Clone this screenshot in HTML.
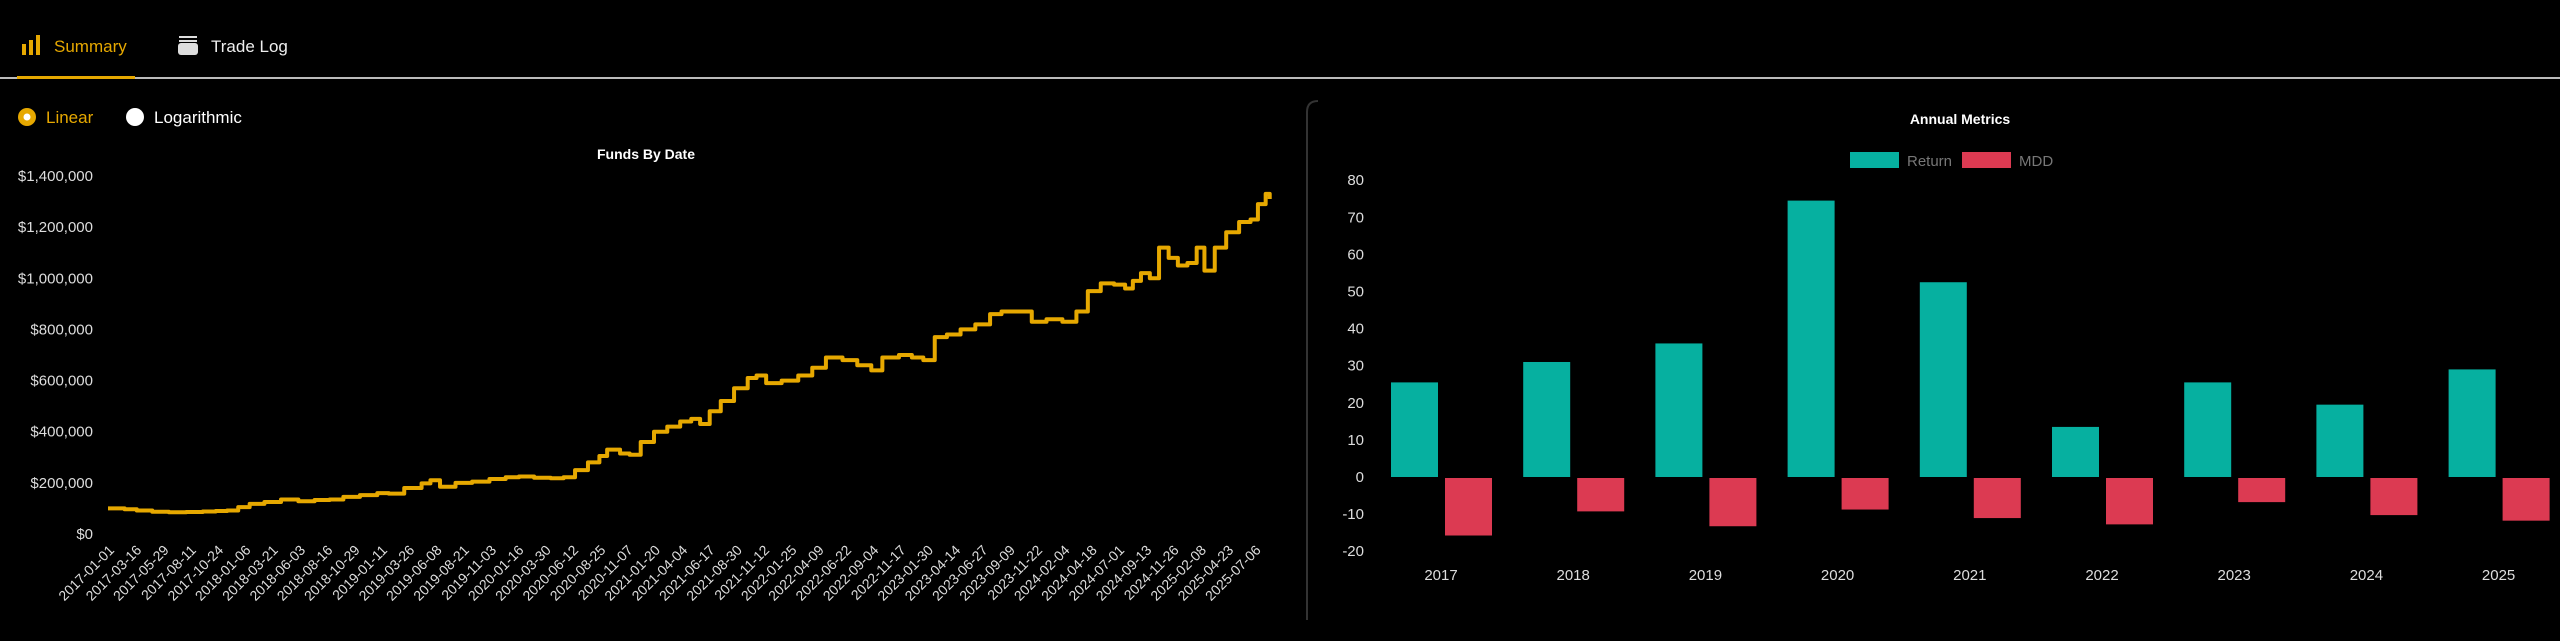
<!DOCTYPE html>
<html><head><meta charset="utf-8"><style>
html,body{margin:0;padding:0;background:#000;width:2560px;height:641px;overflow:hidden;font-family:"Liberation Sans",sans-serif}
svg{position:absolute;left:0;top:0}
</style></head><body>
<svg id="root" width="2560" height="641" xmlns="http://www.w3.org/2000/svg">
 <g>
  <rect x="22" y="44" width="4" height="11" fill="#e6a800"/><rect x="29" y="40" width="4" height="15" fill="#e6a800"/><rect x="36" y="35" width="4" height="20" fill="#e6a800"/>
  <text x="54" y="52" font-size="17" fill="#e6a800">Summary</text>
 </g>
 <g>
  <rect x="179" y="36" width="18" height="2" fill="#ddd"/><rect x="179" y="40" width="18" height="2" fill="#ddd"/><rect x="178" y="43" width="20" height="12" rx="3" fill="#ddd"/>
  <text x="211" y="52" font-size="17" fill="#eee">Trade Log</text>
 </g>
 <rect x="0" y="77" width="2560" height="2" fill="#bbb"/>
 <rect x="17" y="76" width="118" height="3" fill="#e6a800"/>
 <g>
  <circle cx="27" cy="117" r="9" fill="#e6a800"/><circle cx="27" cy="117" r="3.5" fill="#fff"/>
  <text x="46" y="123" font-size="17" fill="#e6a800">Linear</text>
 </g>
 <g>
  <circle cx="135" cy="117" r="9" fill="#fff"/>
  <text x="154" y="123" font-size="17" fill="#fff">Logarithmic</text>
 </g>
 <text x="646" y="159" font-size="14" font-weight="bold" fill="#fff" text-anchor="middle">Funds By Date</text>
 <g id="lineChart"></g>
 <path d="M1307 620 L1307 112 Q1307 101 1318 101" stroke="#333" stroke-width="2" fill="none"/>
 <text x="1960" y="124" font-size="14" font-weight="bold" fill="#fff" text-anchor="middle">Annual Metrics</text>
 <g><rect x="1850" y="152" width="49" height="16" fill="#06b0a0"/><text x="1907" y="166" font-size="15" fill="#777">Return</text></g>
 <g><rect x="1962" y="152" width="49" height="16" fill="#dc3a52"/><text x="2019" y="166" font-size="15" fill="#777">MDD</text></g>
 <g id="barChart"></g>
</svg>
<script>
const NS="http://www.w3.org/2000/svg";
const yTicks=[0,200000,400000,600000,800000,1000000,1200000,1400000];
const xLabels=["2017-01-01","2017-03-16","2017-05-29","2017-08-11","2017-10-24","2018-01-06","2018-03-21","2018-06-03","2018-08-16","2018-10-29","2019-01-11","2019-03-26","2019-06-08","2019-08-21","2019-11-03","2020-01-16","2020-03-30","2020-06-12","2020-08-25","2020-11-07","2021-01-20","2021-04-04","2021-06-17","2021-08-30","2021-11-12","2022-01-25","2022-04-09","2022-06-22","2022-09-04","2022-11-17","2023-01-30","2023-04-14","2023-06-27","2023-09-09","2023-11-22","2024-02-04","2024-04-18","2024-07-01","2024-09-13","2024-11-26","2025-02-08","2025-04-23","2025-07-06"];
const fundDates=["2017-01-01","2017-02-15","2017-03-20","2017-05-01","2017-06-15","2017-08-01","2017-09-15","2017-10-20","2017-11-20","2017-12-20","2018-01-20","2018-03-01","2018-04-15","2018-06-01","2018-07-15","2018-08-25","2018-10-01","2018-11-15","2019-01-01","2019-02-01","2019-03-15","2019-05-01","2019-05-25","2019-06-20","2019-08-01","2019-09-15","2019-11-01","2019-12-15","2020-01-20","2020-03-01","2020-04-15","2020-05-20","2020-06-20","2020-07-25","2020-08-25","2020-09-15","2020-10-20","2020-11-15","2020-12-15","2021-01-20","2021-02-25","2021-04-01","2021-05-01","2021-05-25","2021-06-20","2021-07-20","2021-08-25","2021-10-01","2021-10-25","2021-11-20","2022-01-01","2022-02-15","2022-03-25","2022-05-01","2022-06-15","2022-07-25","2022-09-01","2022-10-01","2022-11-15","2022-12-20","2023-01-20","2023-02-20","2023-03-25","2023-05-01","2023-06-10","2023-07-20","2023-08-20","2023-10-01","2023-11-10","2023-12-20","2024-02-01","2024-03-10","2024-04-10","2024-05-15","2024-06-20","2024-07-20","2024-08-10","2024-09-01","2024-09-25","2024-10-20","2024-11-15","2024-12-10","2025-01-05","2025-01-30","2025-02-20","2025-03-20","2025-04-20","2025-05-25","2025-06-25","2025-07-15","2025-08-05","2025-08-16"];
const fundValues=[100000,97000,92000,87000,85000,86000,88000,90000,92000,105000,118000,125000,135000,128000,133000,135000,145000,152000,160000,158000,180000,198000,210000,185000,200000,205000,215000,222000,225000,220000,218000,222000,250000,280000,305000,330000,315000,310000,360000,400000,420000,440000,450000,430000,480000,520000,570000,610000,620000,590000,600000,620000,650000,690000,680000,660000,640000,690000,700000,690000,680000,770000,780000,800000,820000,860000,870000,870000,830000,840000,830000,870000,950000,980000,975000,960000,990000,1020000,1000000,1120000,1080000,1050000,1060000,1120000,1030000,1120000,1180000,1220000,1230000,1290000,1330000,1310000];
const years=["2017","2018","2019","2020","2021","2022","2023","2024","2025"];
const returnValues=[25.5,31,36,74.5,52.5,13.5,25.5,19.5,29];
const mddValues=[-15.5,-9,-13,-8.5,-10.8,-12.5,-6.5,-10,-11.5];
const barTicks=[80,70,60,50,40,30,20,10,0,-10,-20];

const t0=Date.parse("2017-01-01");
function xL(d){return 108+(Date.parse(d)-t0)/86400000*27.3/74;}
function yL(v){return 534-v*(534-176)/1400000;}
const lc=document.getElementById('lineChart');
function fmt(v){return "$"+v.toLocaleString("en-US");}
yTicks.forEach(v=>{
  const t=document.createElementNS(NS,'text');
  t.setAttribute('x',93);t.setAttribute('y',yL(v)+5);t.setAttribute('text-anchor','end');
  t.setAttribute('font-size','15');t.setAttribute('fill','#ddd');t.textContent=fmt(v);
  
  
  lc.appendChild(t);
});
xLabels.forEach(d=>{
  const x=xL(d)+7,y=551;
  const t=document.createElementNS(NS,'text');
  t.setAttribute('x',x);t.setAttribute('y',y);t.setAttribute('text-anchor','end');
  t.setAttribute('font-size','14');t.setAttribute('fill','#ddd');
  t.setAttribute('transform','rotate(-45 '+x+' '+y+')');t.textContent=d;
  
  
  lc.appendChild(t);
});
let p="";
fundDates.forEach((d,i)=>{
  const x=xL(d),y=yL(fundValues[i]);
  if(i===0)p+="M"+x+" "+y;else p+=" H"+x+" V"+y;
});
const path=document.createElementNS(NS,'path');
path.setAttribute('d',p);path.setAttribute('fill','none');path.setAttribute('stroke','#e6a800');
path.setAttribute('stroke-width','4');path.setAttribute('stroke-linejoin','round');


lc.appendChild(path);

const bc=document.getElementById('barChart');
function yB(v){return 477-v*3.71;}
function xC(i){return 1441+i*132.2;}
barTicks.forEach(v=>{
  const t=document.createElementNS(NS,'text');
  t.setAttribute('x',1364);t.setAttribute('y',yB(v)+5);t.setAttribute('text-anchor','end');
  t.setAttribute('font-size','15');t.setAttribute('fill','#ddd');t.textContent=v;
  
  
  bc.appendChild(t);
});
years.forEach((yr,i)=>{
  const c=xC(i);
  const r=document.createElementNS(NS,'rect');
  const rv=returnValues[i];
  r.setAttribute('x',c-50);r.setAttribute('width',47);
  r.setAttribute('y',Math.min(yB(rv),yB(0)));r.setAttribute('height',Math.abs(yB(rv)-yB(0)));
  r.setAttribute('fill','#06b0a0');
  
  
  bc.appendChild(r);
  const m=document.createElementNS(NS,'rect');
  const mv=mddValues[i];
  m.setAttribute('x',c+4);m.setAttribute('width',47);
  m.setAttribute('y',Math.min(yB(mv),yB(0))+1);m.setAttribute('height',Math.abs(yB(mv)-yB(0)));
  m.setAttribute('fill','#dc3a52');
  
  
  bc.appendChild(m);
  const t=document.createElementNS(NS,'text');
  t.setAttribute('x',c);t.setAttribute('y',580);t.setAttribute('text-anchor','middle');
  t.setAttribute('font-size','15');t.setAttribute('fill','#ddd');t.textContent=yr;
  
  
  bc.appendChild(t);
});
</script>
</body></html>
